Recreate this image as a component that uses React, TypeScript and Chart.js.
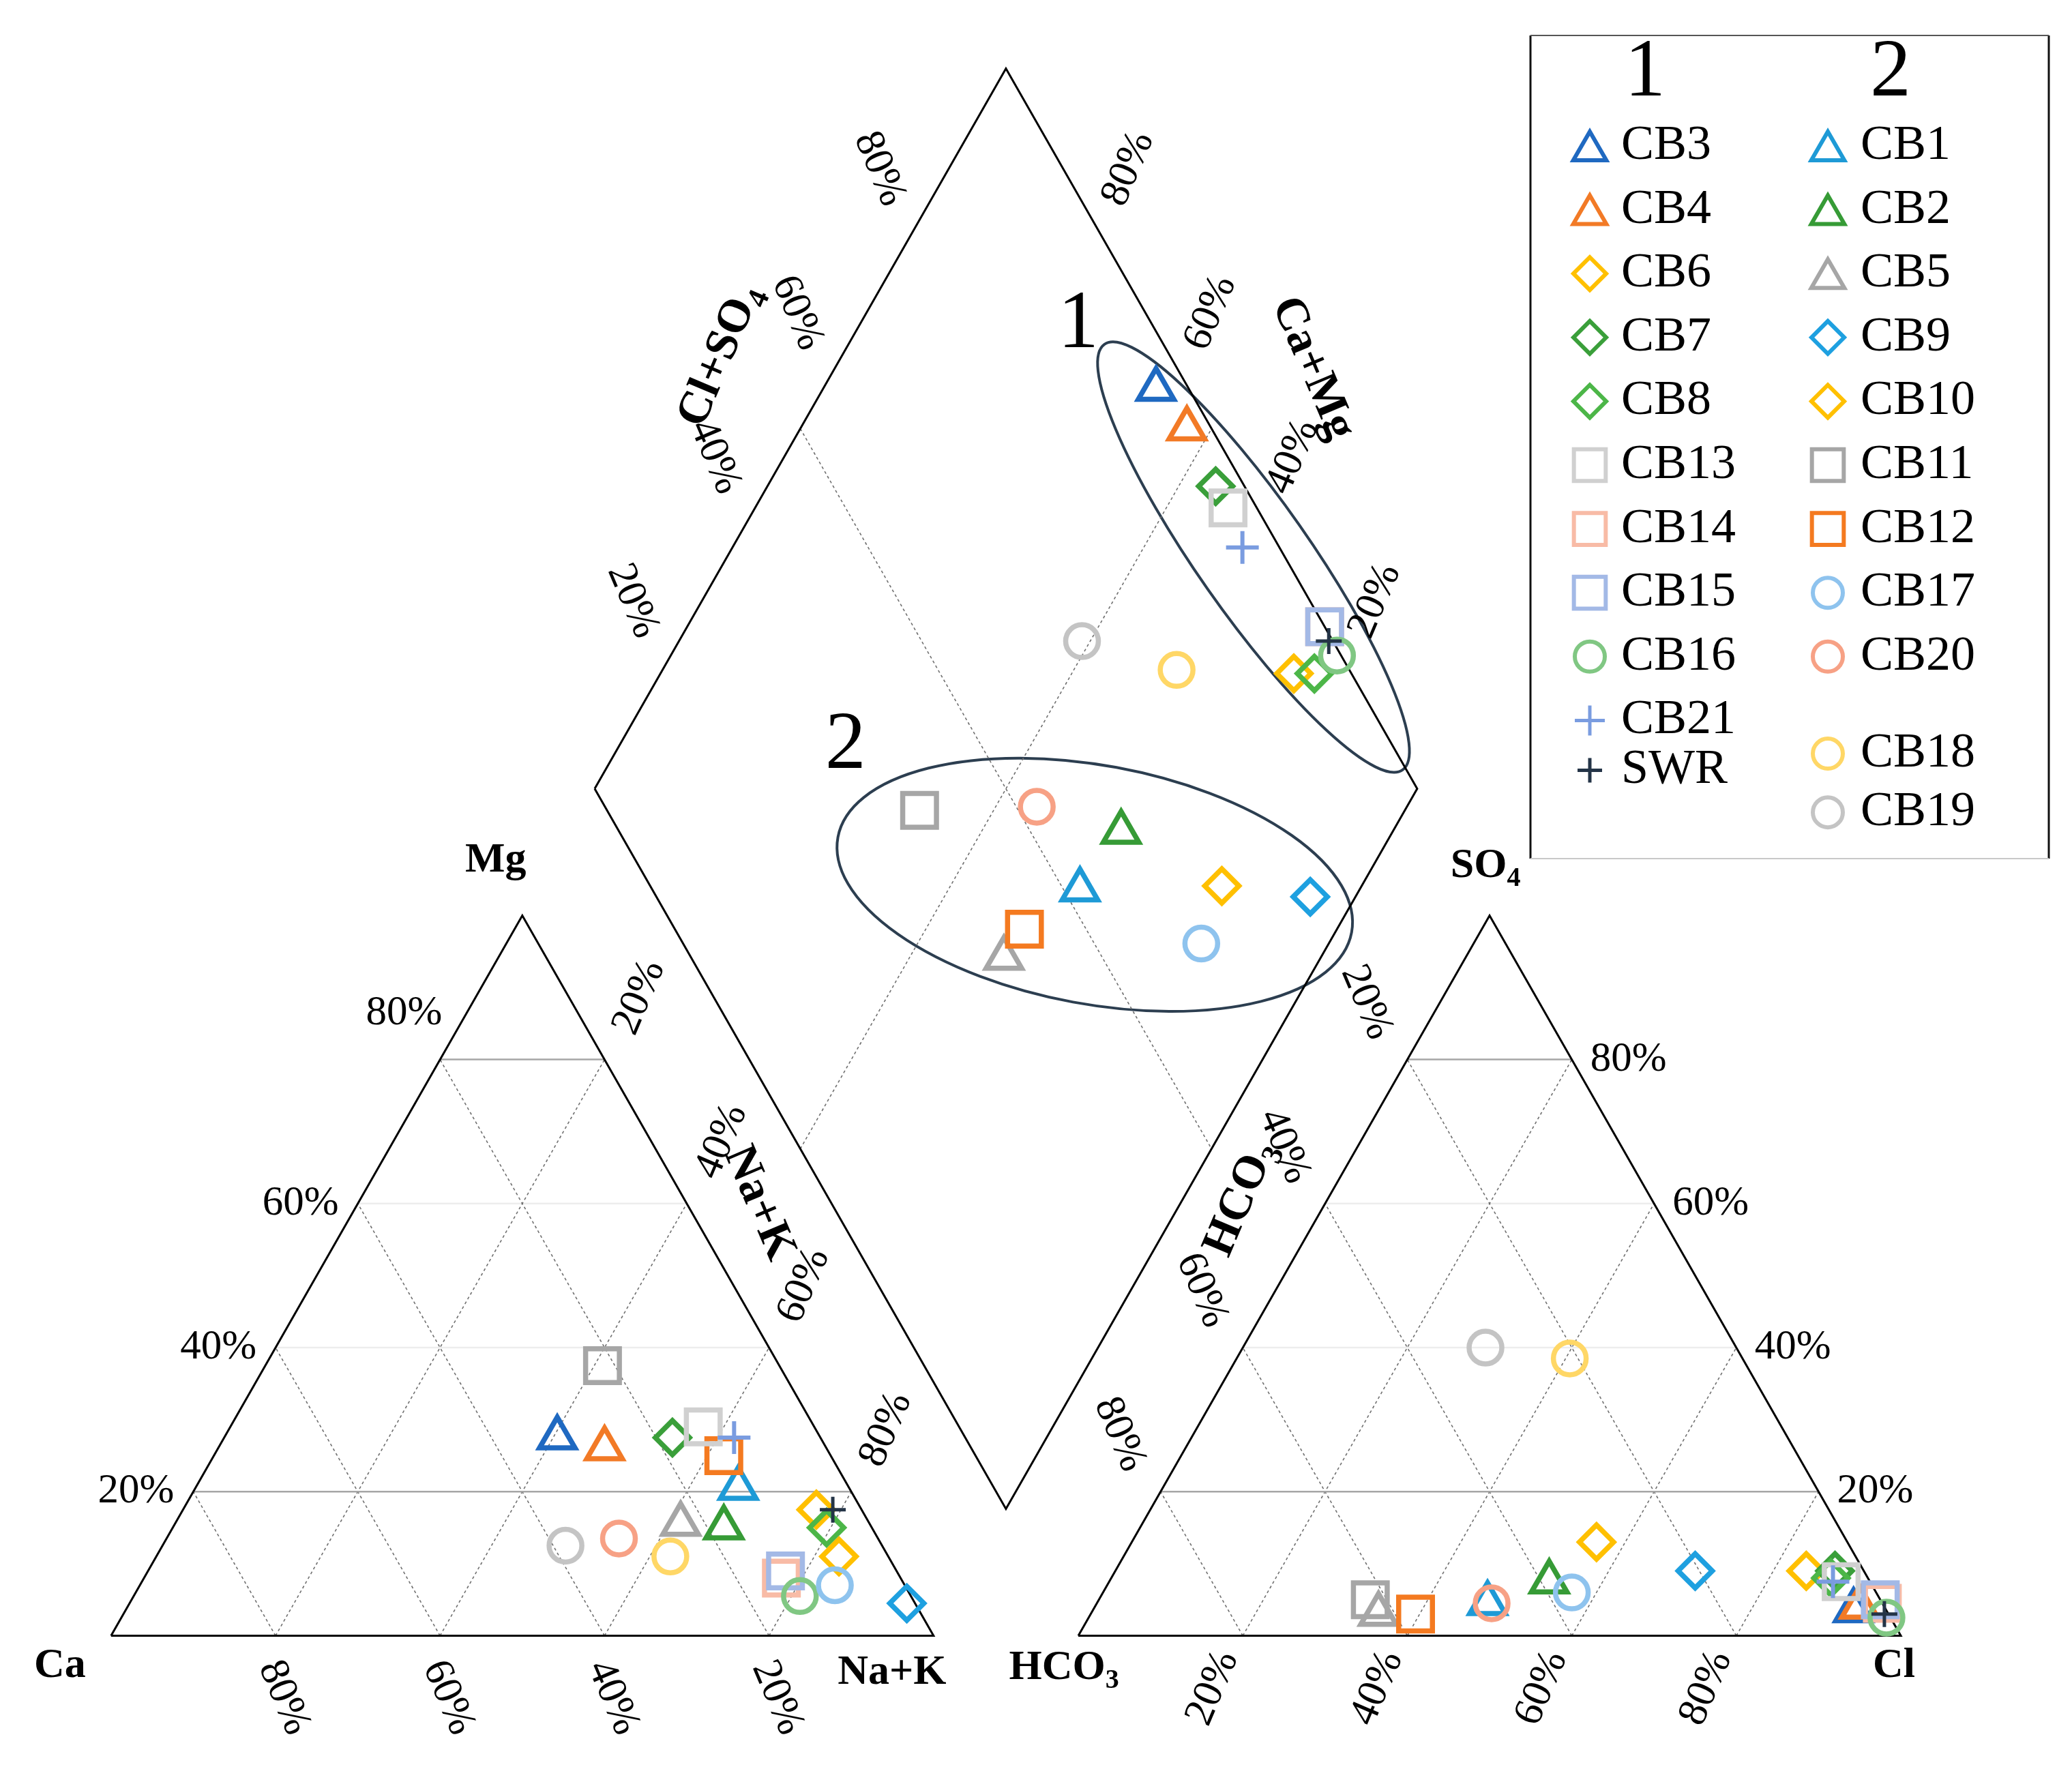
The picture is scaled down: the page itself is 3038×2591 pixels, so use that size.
import React, { useEffect, useRef } from 'react';
import { Chart, registerables } from 'chart.js';

Chart.register(...registerables);

// ---------------- data (percent of meq) ----------------
const sampleNames = ['CB3', 'CB4', 'CB6', 'CB7', 'CB8', 'CB13', 'CB14', 'CB15', 'CB16', 'CB21', 'SWR',
  'CB1', 'CB2', 'CB5', 'CB9', 'CB10', 'CB11', 'CB12', 'CB17', 'CB20', 'CB18', 'CB19'];
const caPct = [32, 27, 5.5, 18, 5.5, 13.5, 14.5, 13.5, 13.5, 10.5, 3.5,
  13.5, 18, 23, 1, 6, 21.5, 13, 8.5, 31.5, 26.5, 38.5];
const mgPct = [27.5, 26, 17.5, 27.5, 15, 29, 8, 9, 5.5, 27.5, 17.5,
  20.5, 15, 15.5, 4.5, 11, 37.5, 25, 7, 13.5, 11, 12.5];
const nakPct = [40.5, 47, 77, 54.5, 79.5, 57.5, 77.5, 77.5, 81, 62, 79,
  66, 67, 61.5, 94.5, 83, 41, 62, 84.5, 55, 62.5, 49];
const hco3Pct = [4, 3, 7, 3.5, 4.5, 3.5, 0, 0, 0.5, 4.5, 0.5,
  48, 39, 62, 20.5, 30.5, 62, 57.5, 37, 47.5, 21, 30.5];
const so4Pct = [3.5, 4, 9, 9, 8, 7.5, 4.5, 5, 2.5, 7.5, 3,
  4.5, 7.5, 3, 9, 13, 5, 3, 6, 4.5, 38.5, 40];
const clPct = [92.5, 93, 84, 87.5, 87.5, 89, 95.5, 95, 97, 88, 96.5,
  47.5, 53.5, 35, 70.5, 56.5, 33, 39.5, 57, 48, 40.5, 29.5];

const legendColumn1 = ['CB3', 'CB4', 'CB6', 'CB7', 'CB8', 'CB13', 'CB14', 'CB15', 'CB16', 'CB21', 'SWR'];
const legendColumn2 = ['CB1', 'CB2', 'CB5', 'CB9', 'CB10', 'CB11', 'CB12', 'CB17', 'CB20', 'CB18', 'CB19'];
const legendHeaders = ['1', '2'];
const tickValues = [20, 40, 60, 80];
const tickLabels = ['20%', '40%', '60%', '80%'];
const groupLabels = ['1', '2'];

// ---------------- styles ----------------
const sampleColors: Record<string, string> = {
  CB3: '#1F69C1', CB4: '#F27A26', CB6: '#FFC000', CB7: '#3A9F3A', CB8: '#4CB648',
  CB13: '#D0D0D0', CB14: '#F8BBA6', CB15: '#A3B9E6', CB16: '#80C783', CB21: '#7A9CE0', SWR: '#243447',
  CB1: '#1E9AD6', CB2: '#369B36', CB5: '#A6A6A6', CB9: '#1EA0E0', CB10: '#FFC000',
  CB11: '#A6A6A6', CB12: '#F47A20', CB17: '#8EC3EE', CB20: '#F7A185', CB18: '#FFD766', CB19: '#C4C4C4',
};
const sampleShapes: Record<string, string> = {
  CB3: 'triangle', CB4: 'triangle', CB6: 'rectRot', CB7: 'rectRot', CB8: 'rectRot',
  CB13: 'rect', CB14: 'rect', CB15: 'rect', CB16: 'circle', CB21: 'cross', SWR: 'cross',
  CB1: 'triangle', CB2: 'triangle', CB5: 'triangle', CB9: 'rectRot', CB10: 'rectRot',
  CB11: 'rect', CB12: 'rect', CB17: 'circle', CB20: 'circle', CB18: 'circle', CB19: 'circle',
};
const shapeRadius: Record<string, number> = { triangle: 30, rectRot: 25, rect: 35, circle: 24, cross: 24 };

const W = 3038;
const HT = 2591;
const GAP = 17.6;
const TRI_H = 50 * Math.sqrt(3);
const X_MIN = -13.5, X_MAX = 238.41, Y_MIN = -15.79, Y_MAX = 196.69;
const SERIF = '"Liberation Serif", "Times New Roman", serif';
const PCT_FONT = { size: 61, bold: false };
const CORNER_FONT = { size: 62, bold: true };
const TITLE_FONT = { size: 68, bold: true };

// ---------------- geometry ----------------
function cationPt(mg: number, nak: number) {
  return { x: nak + mg / 2, y: (mg / 100) * TRI_H };
}
function anionPt(so4: number, cl: number) {
  return { x: 100 + GAP + cl + so4 / 2, y: (so4 / 100) * TRI_H };
}
function diamondPt(nak: number, clso4: number) {
  return {
    x: 50 + GAP / 2 + nak / 2 + clso4 / 2,
    y: GAP * Math.sqrt(3) / 2 + TRI_H + ((clso4 - nak) / 100) * TRI_H,
  };
}

function seg(a: any, b: any, color: string, width: number, dash: number[], order: number) {
  return {
    data: [a, b], showLine: true, borderColor: color, borderWidth: width, borderDash: dash,
    pointRadius: 0, pointHoverRadius: 0, fill: false, tension: 0, order,
  };
}

function buildDatasets() {
  const ds: any[] = [];
  const DOT = '#707070';
  tickValues.forEach((v) => {
    const hCol = v === 20 || v === 80 ? '#A6A6A6' : '#EDEDED';
    ds.push(seg(cationPt(v, 0), cationPt(v, 100 - v), hCol, 2.5, [], 1000));
    ds.push(seg(cationPt(0, v), cationPt(100 - v, v), DOT, 1.6, [4, 4], 1000));
    ds.push(seg(cationPt(0, 100 - v), cationPt(100 - v, 0), DOT, 1.6, [4, 4], 1000));
    ds.push(seg(anionPt(v, 0), anionPt(v, 100 - v), hCol, 2.5, [], 1000));
    ds.push(seg(anionPt(0, v), anionPt(100 - v, v), DOT, 1.6, [4, 4], 1000));
    ds.push(seg(anionPt(0, 100 - v), anionPt(100 - v, 0), DOT, 1.6, [4, 4], 1000));
  });
  ds.push(seg(diamondPt(0, 50), diamondPt(100, 50), DOT, 1.6, [4, 4], 1000));
  ds.push(seg(diamondPt(50, 0), diamondPt(50, 100), DOT, 1.6, [4, 4], 1000));

  const frame = (pts: any[]) => ({
    data: pts, showLine: true, borderColor: '#000', borderWidth: 3, pointRadius: 0,
    pointHoverRadius: 0, fill: false, tension: 0, order: 900,
  });
  ds.push(frame([cationPt(0, 0), cationPt(0, 100), cationPt(100, 0), cationPt(0, 0)]));
  ds.push(frame([anionPt(0, 0), anionPt(0, 100), anionPt(100, 0), anionPt(0, 0)]));
  ds.push(frame([diamondPt(0, 0), diamondPt(0, 100), diamondPt(100, 100), diamondPt(100, 0), diamondPt(0, 0)]));

  sampleNames.forEach((name, i) => {
    const tc = caPct[i] + mgPct[i] + nakPct[i];
    const ta = hco3Pct[i] + so4Pct[i] + clPct[i];
    const mg = (mgPct[i] / tc) * 100;
    const nak = (nakPct[i] / tc) * 100;
    const so4 = (so4Pct[i] / ta) * 100;
    const cl = (clPct[i] / ta) * 100;
    const shape = sampleShapes[name];
    const r = name === 'SWR' ? 19 : shapeRadius[shape];
    const bw = shape === 'cross' ? (name === 'SWR' ? 5 : 6) : 7.5;
    const rank = name === 'SWR' ? 22 : parseInt(name.slice(2), 10);
    const col = sampleColors[name];
    ds.push({
      label: name,
      data: [cationPt(mg, nak), anionPt(so4, cl), diamondPt(nak, so4 + cl)],
      showLine: false,
      pointStyle: shape,
      pointRadius: r,
      pointHoverRadius: r,
      borderWidth: bw,
      pointBorderWidth: bw,
      pointHoverBorderWidth: bw,
      borderColor: col,
      pointBorderColor: col,
      backgroundColor: 'rgba(0,0,0,0)',
      pointBackgroundColor: 'rgba(0,0,0,0)',
      order: 100 - rank,
    });
  });
  return ds;
}

function drawLabel(ctx: CanvasRenderingContext2D, x: number, y: number, main: string, sub: string,
  font: { size: number; bold: boolean }, align: string, angle: number) {
  ctx.save();
  ctx.translate(x, y);
  ctx.rotate((angle * Math.PI) / 180);
  const f = `${font.bold ? 'bold ' : ''}${font.size}px ${SERIF}`;
  const subSize = Math.round(font.size * 0.65);
  const fs = `${font.bold ? 'bold ' : ''}${subSize}px ${SERIF}`;
  ctx.font = f;
  const wMain = ctx.measureText(main).width;
  let wSub = 0;
  if (sub) { ctx.font = fs; wSub = ctx.measureText(sub).width; }
  const total = wMain + wSub;
  const x0 = align === 'left' ? 0 : align === 'right' ? -total : -total / 2;
  ctx.fillStyle = '#000';
  ctx.textBaseline = 'middle';
  ctx.textAlign = 'left';
  ctx.font = f;
  ctx.fillText(main, x0, 0);
  if (sub) { ctx.font = fs; ctx.fillText(sub, x0 + wMain, font.size * 0.3); }
  ctx.restore();
}

function drawMarker(ctx: CanvasRenderingContext2D, shape: string, x: number, y: number, r: number, color: string, lw: number) {
  ctx.save();
  ctx.strokeStyle = color;
  ctx.lineWidth = lw;
  ctx.beginPath();
  if (shape === 'triangle') {
    const cy = y + r / 4;
    for (let k = 0; k < 3; k++) {
      const a = (k * 2 * Math.PI) / 3;
      const px = x + Math.sin(a) * r, py = cy - Math.cos(a) * r;
      if (k === 0) ctx.moveTo(px, py); else ctx.lineTo(px, py);
    }
    ctx.closePath();
  } else if (shape === 'rectRot') {
    ctx.moveTo(x - r, y); ctx.lineTo(x, y - r); ctx.lineTo(x + r, y); ctx.lineTo(x, y + r); ctx.closePath();
  } else if (shape === 'rect') {
    const s = r * Math.SQRT1_2;
    ctx.rect(x - s, y - s, 2 * s, 2 * s);
  } else if (shape === 'circle') {
    ctx.arc(x, y, r, 0, Math.PI * 2);
  } else {
    ctx.moveTo(x, y - r); ctx.lineTo(x, y + r); ctx.moveTo(x - r, y); ctx.lineTo(x + r, y);
  }
  ctx.stroke();
  ctx.restore();
}

const ELLIPSES = [
  { cx: 138.9, cy: 129.7, a: 381, b: 82, rot: 55 },
  { cx: 119.6, cy: 90.3, a: 383, b: 175, rot: 10.5 },
];
const GROUP_LABEL_AT = [{ x: 117.6, y: 157.5 }, { x: 89.3, y: 106.9 }];

const piperDecor = {
  id: 'piperDecor',
  beforeDraw(chart: any) {
    const ctx = chart.ctx;
    ctx.save();
    ctx.fillStyle = '#fff';
    ctx.fillRect(0, 0, chart.width, chart.height);
    ctx.restore();
  },
  beforeDatasetsDraw(chart: any) {
    const ctx = chart.ctx;
    const xs = chart.scales.x, ys = chart.scales.y;
    ctx.save();
    ctx.strokeStyle = '#2C3E50';
    ctx.lineWidth = 4;
    ELLIPSES.forEach((e) => {
      ctx.beginPath();
      ctx.ellipse(xs.getPixelForValue(e.cx), ys.getPixelForValue(e.cy), e.a, e.b, (e.rot * Math.PI) / 180, 0, Math.PI * 2);
      ctx.stroke();
    });
    ctx.restore();
  },
  afterDatasetsDraw(chart: any) {
    const ctx: CanvasRenderingContext2D = chart.ctx;
    const xs = chart.scales.x, ys = chart.scales.y;
    const P = (pt: { x: number; y: number }) => ({ x: xs.getPixelForValue(pt.x), y: ys.getPixelForValue(pt.y) });

    tickValues.forEach((v, k) => {
      const lab = tickLabels[k];
      const m = P(cationPt(v, 0));
      if (v === 80) drawLabel(ctx, m.x + 3, m.y - 68, lab, '', PCT_FONT, 'right', 0);
      else drawLabel(ctx, m.x - 28, m.y, lab, '', PCT_FONT, 'right', 0);
      const c = P(cationPt(0, 100 - v));
      drawLabel(ctx, c.x + 12, c.y + 91, lab, '', PCT_FONT, 'center', 67);
      const cl = P(anionPt(0, v));
      drawLabel(ctx, cl.x - 44, cl.y + 77, lab, '', PCT_FONT, 'center', -67);
      const s = P(anionPt(v, 100 - v));
      drawLabel(ctx, s.x + 27, s.y, lab, '', PCT_FONT, 'left', 0);
      const ul = P(diamondPt(0, v));
      drawLabel(ctx, ul.x - 65, ul.y - 64, lab, '', PCT_FONT, 'center', 67);
      const ur = P(diamondPt(100 - v, 100));
      drawLabel(ctx, ur.x + 59, ur.y - 64, lab, '', PCT_FONT, 'center', -67);
      const ll = P(diamondPt(v, 0));
      drawLabel(ctx, ll.x - 55, ll.y + 95, lab, '', PCT_FONT, 'center', -67);
      const lr = P(diamondPt(100, 100 - v));
      drawLabel(ctx, lr.x + 46, lr.y + 102, lab, '', PCT_FONT, 'center', 67);
    });

    let q = P(cationPt(0, 0)); drawLabel(ctx, q.x - 75, q.y + 45, 'Ca', '', CORNER_FONT, 'center', 0);
    q = P(cationPt(0, 100)); drawLabel(ctx, q.x - 61, q.y + 55, 'Na+K', '', CORNER_FONT, 'center', 0);
    q = P(cationPt(100, 0)); drawLabel(ctx, q.x - 39, q.y - 80, 'Mg', '', CORNER_FONT, 'center', 0);
    q = P(anionPt(0, 0)); drawLabel(ctx, q.x - 21, q.y + 48, 'HCO', '3', CORNER_FONT, 'center', 0);
    q = P(anionPt(0, 100)); drawLabel(ctx, q.x - 10, q.y + 45, 'Cl', '', CORNER_FONT, 'center', 0);
    q = P(anionPt(100, 0)); drawLabel(ctx, q.x - 6, q.y - 72, 'SO', '4', CORNER_FONT, 'center', 0);

    q = P(diamondPt(0, 50)); drawLabel(ctx, q.x - 117, q.y - 107, 'Cl+SO', '4', TITLE_FONT, 'center', -67);
    q = P(diamondPt(50, 100)); drawLabel(ctx, q.x + 148, q.y - 88, 'Ca+Mg', '', TITLE_FONT, 'center', 67);
    q = P(diamondPt(50, 0)); drawLabel(ctx, q.x - 61, q.y + 80, 'Na+K', '', TITLE_FONT, 'center', 67);
    q = P(diamondPt(100, 50)); drawLabel(ctx, q.x + 43, q.y + 73, 'HCO', '3', TITLE_FONT, 'center', -67);

    groupLabels.forEach((g, i) => {
      const p = P(GROUP_LABEL_AT[i]);
      drawLabel(ctx, p.x, p.y, g, '', { size: 120, bold: false }, 'center', 0);
    });

    const L = 2244, T = 52, R = 3004, B = 1259;
    ctx.save();
    ctx.lineWidth = 3; ctx.strokeStyle = '#111';
    ctx.beginPath(); ctx.moveTo(L, T); ctx.lineTo(L, B); ctx.moveTo(R, T); ctx.lineTo(R, B); ctx.stroke();
    ctx.lineWidth = 2; ctx.strokeStyle = '#555';
    ctx.beginPath(); ctx.moveTo(L, T); ctx.lineTo(R, T); ctx.stroke();
    ctx.strokeStyle = '#C8C8C8';
    ctx.beginPath(); ctx.moveTo(L, B); ctx.lineTo(R, B); ctx.stroke();
    ctx.restore();
    drawLabel(ctx, 2412, 108, legendHeaders[0], '', { size: 120, bold: false }, 'center', 0);
    drawLabel(ctx, 2772, 108, legendHeaders[1], '', { size: 120, bold: false }, 'center', 0);
    const rowY = (slot: number) => 214 + slot * 93.6;
    const slots1 = [0, 1, 2, 3, 4, 5, 6, 7, 8, 9, 9.78];
    const slots2 = [0, 1, 2, 3, 4, 5, 6, 7, 8, 9.52, 10.44];
    const legendR: Record<string, number> = { triangle: 28, rectRot: 24, rect: 33, circle: 22, cross: 22 };
    const drawCol = (names: string[], slots: number[], mx: number, tx: number) => {
      names.forEach((n, i) => {
        const y = rowY(slots[i]);
        const shape = sampleShapes[n];
        const r = n === 'SWR' ? 18 : legendR[shape];
        drawMarker(ctx, shape, mx, y, r, sampleColors[n], shape === 'cross' ? 5 : 6);
        drawLabel(ctx, tx, y, n, '', { size: 72, bold: false }, 'left', 0);
      });
    };
    drawCol(legendColumn1, slots1, 2331, 2377);
    drawCol(legendColumn2, slots2, 2680, 2728);
  },
};

export default function App() {
  const ref = useRef<HTMLCanvasElement>(null);
  useEffect(() => {
    const canvas = ref.current;
    if (!canvas) return;
    const chart = new Chart(canvas, {
      type: 'scatter',
      data: { datasets: buildDatasets() },
      options: {
        animation: false,
        responsive: false,
        devicePixelRatio: 1,
        events: [],
        layout: { padding: 0, autoPadding: false },
        plugins: { legend: { display: false }, tooltip: { enabled: false } },
        scales: {
          x: { type: 'linear', min: X_MIN, max: X_MAX, display: false },
          y: { type: 'linear', min: Y_MIN, max: Y_MAX, display: false },
        },
      },
      plugins: [piperDecor],
    } as any);
    return () => chart.destroy();
  }, []);
  return (
    <div style={{ position: 'absolute', left: 0, top: 0, width: W, height: HT, background: '#fff' }}>
      <canvas ref={ref} width={W} height={HT} style={{ display: 'block', width: W, height: HT }} />
    </div>
  );
}
